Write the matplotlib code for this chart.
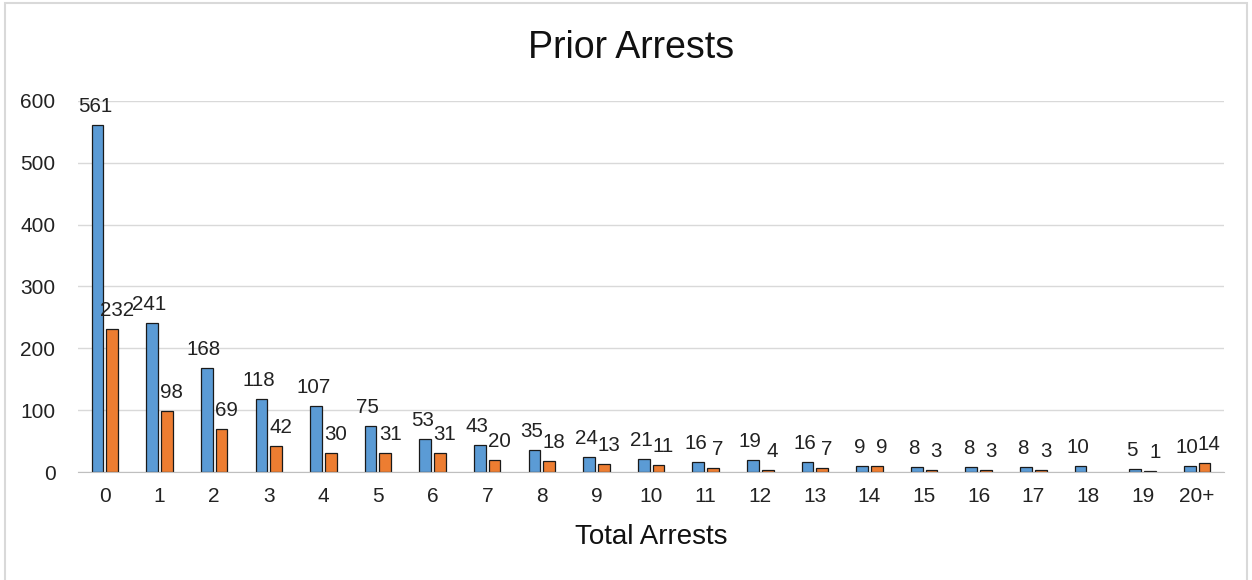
import matplotlib
matplotlib.use("Agg")
import matplotlib.pyplot as plt
import numpy as np
from matplotlib.patches import Rectangle

categories = ["0", "1", "2", "3", "4", "5", "6", "7", "8", "9", "10",
              "11", "12", "13", "14", "15", "16", "17", "18", "19", "20+"]
series_blue = [561, 241, 168, 118, 107, 75, 53, 43, 35, 24, 21,
               16, 19, 16, 9, 8, 8, 8, 10, 5, 10]
series_orange = [232, 98, 69, 42, 30, 31, 31, 20, 18, 13, 11,
                 7, 4, 7, 9, 3, 3, 3, None, 1, 14]
yticks = [0, 100, 200, 300, 400, 500, 600]

plt.rcParams['font.family'] = ['Liberation Sans', 'DejaVu Sans']
fig = plt.figure(figsize=(12.52, 5.8), dpi=100)
ax = fig.add_axes([0.062, 0.1862, 0.916, 0.6397])

x = np.arange(len(categories))
w = 0.215
off = 0.135
blue_vals = [np.nan if v is None else v for v in series_blue]
orange_vals = [np.nan if v is None else v for v in series_orange]
b1 = ax.bar(x - off, blue_vals, w, color="#5B9BD5", edgecolor="#1a1a1a", linewidth=0.9, zorder=3)
b2 = ax.bar(x + off, orange_vals, w, color="#ED7D31", edgecolor="#1a1a1a", linewidth=0.9, zorder=3)

tc = "#222222"
for bars, vals, dx in ((b1, series_blue, -2), (b2, series_orange, 3.5)):
    for rect, v in zip(bars, vals):
        if v is None:
            continue
        ax.annotate(str(v), (rect.get_x() + rect.get_width() / 2, rect.get_height()),
                    xytext=(dx, 6.5), textcoords="offset points", ha="center", va="bottom",
                    fontsize=14.8, color=tc, annotation_clip=False)

ax.set_xlim(-0.5, len(categories) - 0.5)
ax.set_ylim(0, 600)
ax.set_yticks(yticks)
ax.set_xticks(x)
ax.set_xticklabels(categories)
ax.tick_params(axis="both", length=0, labelsize=15, colors=tc)
ax.tick_params(axis="x", pad=11)
ax.tick_params(axis="y", pad=16)
ax.grid(axis="y", color="#d9d9d9", linewidth=1, zorder=0)
for s in ["top", "right", "left"]:
    ax.spines[s].set_visible(False)
ax.spines["bottom"].set_color("#bfbfbf")
ax.spines["bottom"].set_zorder(4)

ax.set_xlabel("Total Arrests", fontsize=20, color="#111111", labelpad=13)
fig.text(0.504, 0.918, "Prior Arrests", ha="center", va="center", fontsize=27, color="#111111")

fig.patches.append(Rectangle((5 / 1252, -0.05), 1242 / 1252, 1 - 3 / 580 + 0.05, transform=fig.transFigure,
                             fill=False, edgecolor="#d9d9d9", linewidth=1.5))

fig.savefig("out.png", dpi=100)
